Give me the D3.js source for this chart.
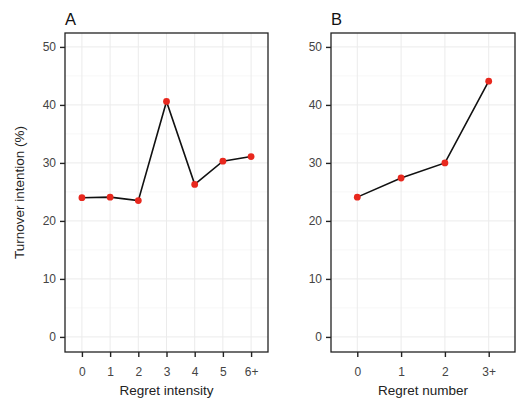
<!DOCTYPE html>
<html>
<head>
<meta charset="utf-8">
<script src="https://cdn.jsdelivr.net/npm/d3@7"></script>
<style>
  body { margin: 0; background: #fff; }
  svg { display: block; font-family: "Liberation Sans", Arial, sans-serif; }
</style>
</head>
<body>
<svg id="chart" width="518" height="399"></svg>
<script>
// panel A
const intensityLabels = ["0", "1", "2", "3", "4", "5", "6+"];
const intensityValues = [24.0, 24.1, 23.5, 40.6, 26.3, 30.3, 31.1];

// panel B
const numberLabels = ["0", "1", "2", "3+"];
const numberValues = [24.1, 27.4, 30.0, 44.1];

const yTicks = [0, 10, 20, 30, 40, 50];
const yMinor = [5, 15, 25, 35, 45];

const svg = d3.select("#chart");
const panelTop = 33, panelBottom = 352;

// y scale shared by both panels
const y = d3.scaleLinear().domain([-2.6, 52.4]).range([panelBottom, panelTop]);

function drawPanel(opts) {
  const { left, right, labels, values, tag, xTitle } = opts;
  const n = labels.length;
  // ggplot style discrete expansion of 0.6
  const xi = d3.scaleLinear().domain([0.4, n + 0.6]).range([left, right]);
  const x = d3.scaleOrdinal().domain(labels).range(labels.map((d, i) => xi(i + 1)));

  const g = svg.append("g");

  // grid
  g.selectAll(".minor").data(yMinor).join("line")
    .attr("x1", left).attr("x2", right)
    .attr("y1", d => y(d)).attr("y2", d => y(d))
    .attr("stroke", "#f2f2f2").attr("stroke-width", 0.6);
  g.selectAll(".major").data(yTicks).join("line")
    .attr("x1", left).attr("x2", right)
    .attr("y1", d => y(d)).attr("y2", d => y(d))
    .attr("stroke", "#ebebeb").attr("stroke-width", 1);
  g.selectAll(".vgrid").data(labels).join("line")
    .attr("x1", d => x(d)).attr("x2", d => x(d))
    .attr("y1", panelTop).attr("y2", panelBottom)
    .attr("stroke", "#ebebeb").attr("stroke-width", 1);

  // line + points
  const line = d3.line().x((d, i) => x(labels[i])).y(d => y(d));
  g.append("path").datum(values)
    .attr("d", line)
    .attr("fill", "none").attr("stroke", "#111").attr("stroke-width", 1.6);
  g.selectAll("circle").data(values).join("circle")
    .attr("cx", (d, i) => x(labels[i])).attr("cy", d => y(d))
    .attr("r", 3.4).attr("fill", "#e8281e");

  // border
  g.append("rect")
    .attr("x", left).attr("y", panelTop)
    .attr("width", right - left).attr("height", panelBottom - panelTop)
    .attr("fill", "none").attr("stroke", "#222").attr("stroke-width", 1.3);

  // y axis
  const ya = g.append("g").attr("transform", `translate(${left},0)`)
    .call(d3.axisLeft(y).tickValues(yTicks).tickSize(5).tickPadding(4));
  ya.select(".domain").remove();
  ya.selectAll(".tick line").attr("stroke", "#222").attr("stroke-width", 1.4);
  ya.selectAll("text").attr("font-size", 12).attr("fill", "#444")
    .attr("font-family", "Liberation Sans, Arial, sans-serif");

  // x axis
  const xa = g.append("g").attr("transform", `translate(0,${panelBottom})`)
    .call(d3.axisBottom(x).tickSize(5).tickPadding(10));
  xa.select(".domain").remove();
  xa.selectAll(".tick line").attr("stroke", "#222").attr("stroke-width", 1.4);
  xa.selectAll("text").attr("font-size", 12).attr("fill", "#444")
    .attr("font-family", "Liberation Sans, Arial, sans-serif");

  g.append("text")
    .attr("x", (left + right) / 2).attr("y", 395)
    .attr("text-anchor", "middle").attr("font-size", 13.5).attr("fill", "#222")
    .text(xTitle);

  g.append("text")
    .attr("x", left).attr("y", 25)
    .attr("font-size", 16.5).attr("fill", "#111")
    .text(tag);
}

drawPanel({ left: 65, right: 268, labels: intensityLabels, values: intensityValues, tag: "A", xTitle: "Regret intensity" });
drawPanel({ left: 331, right: 515, labels: numberLabels, values: numberValues, tag: "B", xTitle: "Regret number" });

svg.append("text")
  .attr("transform", `translate(24,${(panelTop + panelBottom) / 2}) rotate(-90)`)
  .attr("text-anchor", "middle").attr("font-size", 13.5).attr("fill", "#222")
  .text("Turnover intention (%)");
</script>
</body>
</html>
